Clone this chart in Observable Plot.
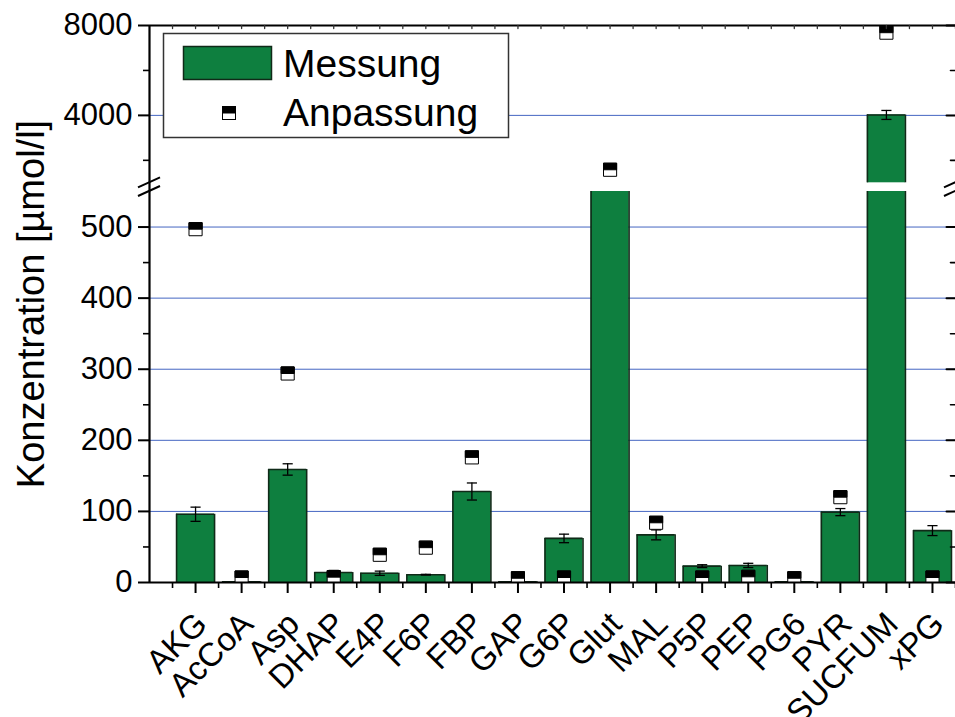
<!DOCTYPE html>
<html><head><meta charset="utf-8">
<script src="https://cdn.jsdelivr.net/npm/d3@7"></script>
<script src="https://cdn.jsdelivr.net/npm/@observablehq/plot@0.6"></script>
<style>
body{margin:0;background:#fff}
#chart{position:relative;width:955px;height:717px;overflow:hidden}
</style>
</head><body><div id="chart"></div>
<script>
// ---- data ----
const categories = ["AKG","AcCoA","Asp","DHAP","E4P","F6P","FBP","GAP","G6P","Glut","MAL","P5P","PEP","PG6","PYR","SUCFUM","xPG"];
const messung   = [96, 1, 159, 14, 13, 11, 128, 1, 62, 800, 67, 23, 24, 1, 99, 4020, 73];
const fehler    = [10, 0, 8, 3, 3, 0.5, 12, 0, 6, null, 7, 2, 3, 0, 5, 200, 7];
const anpassung = [497, 7, 294, 7.5, 39, 49, 176, 6, 7, 1580, 84, 7, 8, 6, 120, 7680, 7];
const yTicksMajor = [0, 100, 200, 300, 400, 500, 4000, 8000];
const yTicksMinor = [50, 150, 250, 350, 450, 2000, 6000];
const gridValues = [100, 200, 300, 400, 500, 4000];
const yBreakLow = 550, yBreakHigh = 1000, yMax = 8000;
const xMax = 17.5;
const yLabel = "Konzentration [µmol/l]";
const legendLabels = ["Messung", "Anpassung"];

const FONT = '"Liberation Sans", Arial, Helvetica, sans-serif';
const GREEN = "#0e7f3f";
const EDGE = "#102a18";
const GRID = "#4566c2";

const data = categories.map((c, i) => ({cat: c, x: i + 1, v: messung[i], err: fehler[i], fit: anpassung[i]}));
// bar pieces on both sides of the axis break
const pieces = data.map(d => ({x: d.x, lo: 0, hi: Math.min(d.v, yBreakLow), whole: d.v <= yBreakLow}))
  .concat(data.filter(d => d.v > yBreakHigh).map(d => ({x: d.x, lo: yBreakHigh, hi: d.v, whole: true})));
const tops = pieces.filter(p => p.whole);
const errs = data.filter(d => d.err != null && (d.v <= yBreakLow || d.v >= yBreakHigh));
const xMajor = data.map(d => d.x);
const xMinor = data.map(d => d.x - 0.5).concat([xMax]);
const halfBar = 0.4125, halfCap = 0.11;

const squareSym = {draw(ctx, size) { const s = Math.sqrt(size); ctx.rect(-s / 2, -s / 2, s, s); }};
const topHalfSym = {draw(ctx, size) { const s = Math.sqrt(size); ctx.rect(-s / 2, -s / 2, s, s / 2); }};
const lineShape = {draw(ctx, l) { ctx.moveTo(0, 0); ctx.lineTo(0, -l); }};
const R = 7.4;

function breakMarks(index, scales) {
  const g = d3.create("svg:g").attr("stroke", "black").attr("stroke-width", 2).attr("fill", "none");
  for (const x of [scales.x(0), scales.x(xMax)])
    for (const y of [scales.y(yBreakHigh), scales.y(yBreakLow)])
      g.append("line").attr("x1", x - 11).attr("y1", y + 5).attr("x2", x + 11).attr("y2", y - 5);
  return g.node();
}

function legend() {
  const g = d3.create("svg:g").attr("font-family", FONT).attr("text-anchor", "start");
  g.append("rect").attr("x", 163.5).attr("y", 33.5).attr("width", 345).attr("height", 104)
    .attr("fill", "white").attr("stroke", "#333").attr("stroke-width", 1.5);
  g.append("rect").attr("x", 183.5).attr("y", 46.5).attr("width", 88).attr("height", 33)
    .attr("fill", GREEN).attr("stroke", EDGE).attr("stroke-width", 1.5);
  g.append("text").attr("x", 283).attr("y", 77).attr("font-size", 39).attr("fill", "black").text(legendLabels[0]);
  const s = 13;
  g.append("rect").attr("x", 229 - s / 2).attr("y", 113 - s / 2).attr("width", s).attr("height", s)
    .attr("fill", "white").attr("stroke", "black").attr("stroke-width", 1);
  g.append("rect").attr("x", 229 - s / 2).attr("y", 113 - s / 2).attr("width", s).attr("height", s / 2)
    .attr("fill", "black").attr("stroke", "black").attr("stroke-width", 1);
  g.append("text").attr("x", 283).attr("y", 126).attr("font-size", 39).attr("fill", "black").text(legendLabels[1]);
  return g.node();
}

const plot = Plot.plot({
  width: 955,
  height: 717,
  marginLeft: 149,
  marginRight: 0,
  marginTop: 25,
  marginBottom: 135,
  style: {fontFamily: FONT, background: "white", color: "black", overflow: "visible"},
  x: {type: "linear", domain: [0, xMax], axis: null, label: null},
  y: {type: "linear", domain: [0, yBreakLow, yBreakHigh, yMax], range: [582, 191, 182.3, 25], axis: null, label: null},
  marks: [
    Plot.ruleY(gridValues, {stroke: GRID, strokeWidth: 1}),
    // bars (fill), then their outlines; cut ends at the break stay open
    Plot.rect(pieces, {x1: d => d.x - halfBar, x2: d => d.x + halfBar, y1: "lo", y2: "hi", fill: GREEN}),
    Plot.ruleX(pieces, {x: d => d.x - halfBar, y1: "lo", y2: "hi", stroke: EDGE, strokeWidth: 1.6}),
    Plot.ruleX(pieces, {x: d => d.x + halfBar, y1: "lo", y2: "hi", stroke: EDGE, strokeWidth: 1.6}),
    Plot.ruleY(tops, {y: "hi", x1: d => d.x - halfBar, x2: d => d.x + halfBar, stroke: EDGE, strokeWidth: 1.6}),
    // error bars
    Plot.ruleX(errs, {x: "x", y1: d => d.v - d.err, y2: d => d.v + d.err, stroke: "black", strokeWidth: 1.3}),
    Plot.link(errs, {x1: d => d.x - halfCap, x2: d => d.x + halfCap, y1: d => d.v + d.err, y2: d => d.v + d.err, stroke: "black", strokeWidth: 1.3}),
    Plot.link(errs, {x1: d => d.x - halfCap, x2: d => d.x + halfCap, y1: d => d.v - d.err, y2: d => d.v - d.err, stroke: "black", strokeWidth: 1.3}),
    // fitted values (half filled squares)
    Plot.dot(data, {x: "x", y: "fit", symbol: squareSym, r: R, fill: "white", stroke: "black", strokeWidth: 1, clip: "frame"}),
    Plot.dot(data, {x: "x", y: "fit", symbol: topHalfSym, r: R, fill: "black", stroke: "black", strokeWidth: 1, clip: "frame"}),
    // frame lines
    Plot.ruleY([0], {stroke: "black", strokeWidth: 2.2}),
    Plot.ruleY([yMax], {stroke: "black", strokeWidth: 2}),
    Plot.ruleX([0], {stroke: "black", strokeWidth: 2.2}),
    // y axis left
    Plot.axisY(yTicksMajor, {anchor: "left", label: null, tickSize: 11, tickPadding: 6, fontSize: 31, strokeWidth: 2, tickFormat: d => String(d)}),
    Plot.axisY(yTicksMinor, {anchor: "left", label: null, tickSize: 6, strokeWidth: 1.6, tickFormat: () => ""}),
    // y ticks on the right, pointing inward
    Plot.vector(yTicksMajor, {x: xMax, y: d => d, length: 9, rotate: -90, anchor: "start", shape: lineShape, stroke: "black", strokeWidth: 2}),
    Plot.vector(yTicksMinor, {x: xMax, y: d => d, length: 5, rotate: -90, anchor: "start", shape: lineShape, stroke: "black", strokeWidth: 1.6}),
    // x axis bottom
    Plot.axisX(xMajor, {anchor: "bottom", label: null, tickSize: 0, tickPadding: 36, dx: 6, fontSize: 33, tickRotate: -45,
      tickFormat: i => categories[i - 1]}),
    Plot.axisX(xMajor, {anchor: "bottom", label: null, tickSize: 11, strokeWidth: 2, tickFormat: () => ""}),
    Plot.axisX(xMinor, {anchor: "bottom", label: null, tickSize: 6, strokeWidth: 1.6, tickFormat: () => ""}),
    // small inward ticks along the top
    Plot.vector(xMajor.concat(xMinor), {x: d => d, y: yMax, length: 3, rotate: 180, anchor: "start", shape: lineShape, stroke: "#333", strokeWidth: 1.3}),
    // y title
    Plot.text([yLabel], {frameAnchor: "left", textAnchor: "middle", rotate: -90, dx: -106, lineAnchor: "bottom", fontSize: 38, fill: "black"}),
    breakMarks,
    legend
  ]
});
document.getElementById("chart").appendChild(plot);
</script>
</body></html>
